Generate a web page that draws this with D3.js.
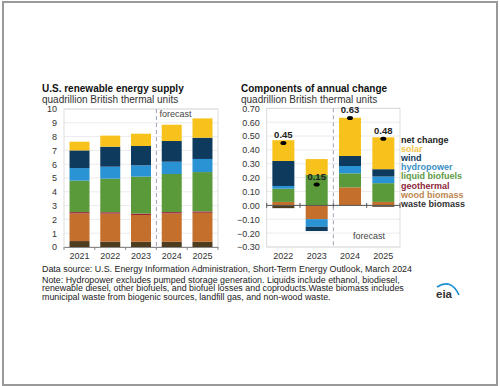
<!DOCTYPE html>
<html>
<meta charset="utf-8">
<style>
  body { margin: 0; background: #fff; }
  svg { width: 500px; height: 386px; display: block; font-family: "Liberation Sans", Arial, sans-serif; }
</style>
<body>
  <svg></svg>
</body>
<script src="https://d3js.org/d3.v7.min.js"></script>
<script>

  // ---- data ----
  var supplyYears = ["2021", "2022", "2023", "2024", "2025"];
  var changeYears = ["2022", "2023", "2024", "2025"];
  var sources = ["waste biomass", "wood biomass", "geothermal", "liquid biofuels", "hydropower", "wind", "solar"];

  // supply, quadrillion Btu (bottom to top)
  var supplyWaste = [0.43, 0.39, 0.38, 0.38, 0.38];
  var supplyWood = [2.00, 2.03, 1.94, 2.05, 2.10];
  var supplyGeo = [0.10, 0.10, 0.10, 0.10, 0.10];
  var supplyLiquid = [2.28, 2.43, 2.68, 2.76, 2.85];
  var supplyHydro = [0.91, 0.87, 0.82, 0.89, 0.95];
  var supplyWind = [1.28, 1.45, 1.40, 1.50, 1.54];
  var supplySolar = [0.63, 0.80, 0.89, 1.18, 1.40];

  // annual change
  var changeWaste = [-0.02, 0, 0, -0.01];
  var changeWood = [0.025, -0.099, 0.13, 0.025];
  var changeGeo = [0, 0, 0, 0];
  var changeLiquid = [0.095, 0.219, 0.101, 0.135];
  var changeHydro = [0.02, -0.055, 0.053, 0.048];
  var changeWind = [0.18, -0.031, 0.072, 0.053];
  var changeSolar = [0.15, 0.115, 0.276, 0.23];
  var netChange = [0.45, 0.15, 0.63, 0.48];

  var supplyTicks = [0, 1, 2, 3, 4, 5, 6, 7, 8, 9, 10];
  var changeTicks = [-0.3, -0.2, -0.1, 0, 0.1, 0.2, 0.3, 0.4, 0.5, 0.6, 0.7];

  var colors = {
    "waste biomass": "#4e3c1f",
    "wood biomass": "#c46f2b",
    "geothermal": "#9d2235",
    "liquid biofuels": "#5a9a3b",
    "hydropower": "#2a93d3",
    "wind": "#0e3a5e",
    "solar": "#f8c21c"
  };
  var legendColors = ["#222", "#f2c447", colors.wind, "#3a90c6", "#5d9a45", "#8e1f3c", "#bd8550", "#333"];

  function rows(years, arrs) {
    return years.map(function(y, i) {
      var r = {year: y};
      sources.forEach(function(s, k) { r[s] = arrs[k][i]; });
      return r;
    });
  }
  var supplyRows = rows(supplyYears, [supplyWaste, supplyWood, supplyGeo, supplyLiquid, supplyHydro, supplyWind, supplySolar]);
  var changeRows = rows(changeYears, [changeWaste, changeWood, changeGeo, changeLiquid, changeHydro, changeWind, changeSolar]);

  var svg = d3.select("svg");

  // frame
  svg.append("rect").attr("x", 3).attr("y", 2).attr("width", 494).attr("height", 383)
    .attr("fill", "none").attr("stroke", "#999").attr("stroke-width", 2);

  // ---- left: supply ----
  var x1 = d3.scaleBand().domain(supplyYears).range([64, 218]).paddingInner(0.35).paddingOuter(0.18);
  var y1 = d3.scaleLinear().domain([0, 10]).range([247, 109]);

  var g1 = svg.append("g");
  g1.selectAll(".grid").data(supplyTicks).enter().append("line")
    .attr("x1", 64).attr("x2", 218).attr("y1", function(d) { return y1(d); }).attr("y2", function(d) { return y1(d); })
    .attr("stroke", "#e6e6e6").attr("stroke-width", 0.8);
  g1.append("rect").attr("x", 64).attr("y", 109).attr("width", 154).attr("height", 138)
    .attr("fill", "none").attr("stroke", "#d4d4d4").attr("stroke-width", 0.8);

  var st1 = d3.stack().keys(sources)(supplyRows);
  g1.selectAll(".layer").data(st1).enter().append("g")
    .attr("fill", function(d) { return colors[d.key]; })
    .selectAll("rect").data(function(d) { return d; }).enter().append("rect")
    .attr("x", function(d) { return x1(d.data.year); })
    .attr("width", x1.bandwidth())
    .attr("y", function(d) { return y1(d[1]); })
    .attr("height", function(d) { return y1(d[0]) - y1(d[1]); });

  var yAxis1 = d3.axisLeft(y1).tickValues(supplyTicks).tickSize(0).tickPadding(7).tickFormat(d3.format("d"));
  g1.append("g").attr("transform", "translate(64,0)").call(yAxis1)
    .call(function(g) { g.select(".domain").remove(); });

  var xAxis1 = d3.axisBottom(x1).tickSize(0).tickPadding(6);
  g1.append("g").attr("transform", "translate(0,247)").call(xAxis1)
    .call(function(g) { g.select(".domain").attr("stroke", "#888"); });
  var bounds1 = d3.range(supplyYears.length + 1).map(function(i) { return 64 + i * 154 / supplyYears.length; });
  g1.selectAll(".xt").data(bounds1).enter().append("line")
    .attr("x1", function(d) { return d; }).attr("x2", function(d) { return d; })
    .attr("y1", 247).attr("y2", 250).attr("stroke", "#888");

  var fx1 = 64 + 3 * 154 / 5;
  g1.append("line").attr("x1", fx1).attr("x2", fx1).attr("y1", 109).attr("y2", 247)
    .attr("stroke", "#9aa3b5").attr("stroke-dasharray", "4,3");
  g1.append("text").attr("x", fx1 + 3).attr("y", 117).attr("font-size", 9).attr("fill", "#444").text("forecast");

  svg.append("text").attr("x", 42).attr("y", 91.5).attr("font-size", 10).attr("font-weight", "bold").attr("fill", "#111").text("U.S. renewable energy supply");
  svg.append("text").attr("x", 42).attr("y", 102.5).attr("font-size", 10).attr("fill", "#333").text("quadrillion British thermal units");

  // ---- right: components of change ----
  var x2 = d3.scaleBand().domain(changeYears).range([266.7, 400]).paddingInner(0.34).paddingOuter(0.17);
  var y2 = d3.scaleLinear().domain([-0.3, 0.7]).range([247, 108.3]);

  var g2 = svg.append("g");
  g2.selectAll(".grid").data(changeTicks).enter().append("line")
    .attr("x1", 266.7).attr("x2", 400).attr("y1", function(d) { return y2(d); }).attr("y2", function(d) { return y2(d); })
    .attr("stroke", "#e6e6e6").attr("stroke-width", 0.8);
  g2.append("rect").attr("x", 266.7).attr("y", 108.3).attr("width", 133.3).attr("height", 138.7)
    .attr("fill", "none").attr("stroke", "#d4d4d4").attr("stroke-width", 0.8);

  var st2 = d3.stack().keys(sources).offset(d3.stackOffsetDiverging)(changeRows);
  g2.selectAll(".layer").data(st2).enter().append("g")
    .attr("fill", function(d) { return colors[d.key]; })
    .selectAll("rect").data(function(d) { return d; }).enter().append("rect")
    .attr("x", function(d) { return x2(d.data.year); })
    .attr("width", x2.bandwidth())
    .attr("y", function(d) { return y2(Math.max(d[0], d[1])); })
    .attr("height", function(d) { return Math.abs(y2(d[0]) - y2(d[1])); });

  var yAxis2 = d3.axisLeft(y2).tickValues(changeTicks).tickSize(0).tickPadding(7).tickFormat(d3.format(".2f"));
  g2.append("g").attr("transform", "translate(266.7,0)").call(yAxis2)
    .call(function(g) { g.select(".domain").remove(); });

  var xAxis2 = d3.axisBottom(x2).tickSize(0).tickPadding(6);
  g2.append("g").attr("transform", "translate(0,247)").call(xAxis2)
    .call(function(g) { g.select(".domain").remove(); });

  // zero line with ticks
  g2.append("line").attr("x1", 266.7).attr("x2", 400).attr("y1", y2(0)).attr("y2", y2(0)).attr("stroke", "#555").attr("stroke-width", 1);
  var bounds2 = d3.range(changeYears.length + 1).map(function(i) { return 266.7 + i * 133.3 / changeYears.length; });
  g2.selectAll(".xt").data(bounds2).enter().append("line")
    .attr("x1", function(d) { return d; }).attr("x2", function(d) { return d; })
    .attr("y1", y2(0) - 2.5).attr("y2", y2(0) + 2.5).attr("stroke", "#555");

  var fx2 = 266.7 + 2 * 133.3 / 4;
  g2.append("line").attr("x1", fx2).attr("x2", fx2).attr("y1", 108.3).attr("y2", 247)
    .attr("stroke", "#9aa3b5").attr("stroke-dasharray", "4,3");
  g2.append("text").attr("x", 369).attr("y", 239).attr("text-anchor", "middle").attr("font-size", 9).attr("fill", "#444").text("forecast");

  // net change dots + labels
  g2.selectAll(".dot").data(netChange).enter().append("ellipse")
    .attr("cx", function(d, i) { return x2(changeYears[i]) + x2.bandwidth() / 2; })
    .attr("cy", function(d) { return y2(d); })
    .attr("rx", 3).attr("ry", 2).attr("fill", "#000");
  g2.selectAll(".lbl").data(netChange).enter().append("text")
    .attr("x", function(d, i) { return x2(changeYears[i]) + x2.bandwidth() / 2; })
    .attr("y", function(d) { return y2(d) - 5; })
    .attr("text-anchor", "middle").attr("font-size", 9.5).attr("font-weight", "bold").attr("fill", "#222")
    .text(d3.format(".2f"));

  svg.append("text").attr("x", 241).attr("y", 91.5).attr("font-size", 10).attr("font-weight", "bold").attr("fill", "#111").text("Components of annual change");
  svg.append("text").attr("x", 241).attr("y", 102.5).attr("font-size", 10).attr("fill", "#333").text("quadrillion British thermal units");

  // legend
  var legendItems = ["net change"].concat(sources.slice().reverse());
  svg.selectAll(".leg").data(legendItems).enter().append("text")
    .attr("x", 401).attr("y", function(d, i) { return 143 + i * 9.1; })
    .attr("font-size", 9).attr("font-weight", "bold")
    .attr("fill", function(d, i) { return legendColors[i]; })
    .text(function(d) { return d; });

  svg.selectAll(".tick text").attr("font-size", 9).attr("fill", "#333").attr("font-family", null);

  // notes
  var notes = [
    "Note: Hydropower excludes pumped storage generation. Liquids include ethanol, biodiesel,",
    "renewable diesel, other biofuels, and biofuel losses and coproducts.Waste biomass includes",
    "municipal waste from biogenic sources, landfill gas, and non-wood waste."
  ];
  svg.append("text").attr("x", 42).attr("y", 272).attr("font-size", 8.9).attr("fill", "#222")
    .text("Data source: U.S. Energy Information Administration, Short-Term Energy Outlook, March 2024");
  svg.selectAll(".note").data(notes).enter().append("text")
    .attr("x", 42).attr("y", function(d, i) { return 282.5 + i * 8.8; })
    .attr("font-size", 8.9).attr("fill", "#222").text(function(d) { return d; });

  // eia logo
  svg.append("text").attr("x", 436).attr("y", 298).attr("font-size", 11.5).attr("font-weight", "bold").attr("fill", "#333").text("eia");
  svg.append("path").attr("d", "M437,287 Q451,278 459,295").attr("fill", "none").attr("stroke", "#1a8fd0").attr("stroke-width", 1.6);

</script>
</html>
